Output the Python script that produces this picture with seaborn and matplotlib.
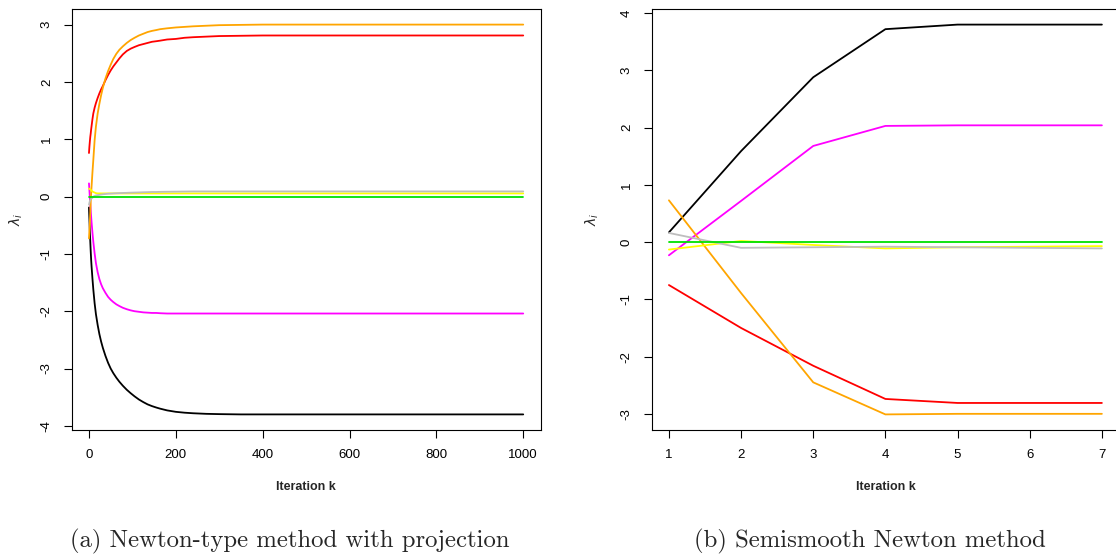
import matplotlib
matplotlib.use("Agg")
import matplotlib.pyplot as plt
import pandas as pd
import seaborn as sns

# ---- Newton-type method with projection (1000 iterations, sampled k) ----
iter_proj = [0, 1, 2, 3, 4, 5, 6, 8, 10, 13, 16, 20, 24, 28, 32, 38, 44, 50, 56, 63,
             70, 78, 87, 96, 105, 115, 125, 135, 145, 155, 164, 180, 200, 220, 240,
             270, 300, 350, 400, 500, 600, 800, 1000]
proj_l1 = [-0.19, -0.40, -0.60, -0.78, -0.95, -1.10, -1.22, -1.43, -1.62, -1.86,
           -2.05, -2.24, -2.40, -2.53, -2.64, -2.78, -2.90, -3.00, -3.08, -3.16,
           -3.23, -3.30, -3.37, -3.43, -3.485, -3.54, -3.585, -3.625, -3.655, -3.68,
           -3.70, -3.73, -3.755, -3.77, -3.78, -3.79, -3.795, -3.80, -3.80, -3.80,
           -3.80, -3.80, -3.80]
proj_l2 = [0.23, 0.11, -0.01, -0.13, -0.24, -0.35, -0.45, -0.63, -0.79, -0.99,
           -1.16, -1.32, -1.44, -1.53, -1.60, -1.68, -1.75, -1.80, -1.84, -1.88,
           -1.91, -1.94, -1.965, -1.985, -2.00, -2.01, -2.02, -2.025, -2.03, -2.03,
           -2.035, -2.04, -2.04, -2.04, -2.04, -2.04, -2.04, -2.04, -2.04, -2.04,
           -2.04, -2.04, -2.04]
proj_l3 = [-0.14, -0.11, -0.08, -0.06, -0.05, -0.04, -0.03, -0.02, 0.00, 0.01,
           0.02, 0.025, 0.03, 0.035, 0.04, 0.045, 0.05, 0.052, 0.055, 0.058,
           0.06, 0.063, 0.065, 0.068, 0.07, 0.072, 0.075, 0.077, 0.08, 0.08,
           0.082, 0.084, 0.086, 0.088, 0.09, 0.09, 0.09, 0.09, 0.09, 0.09,
           0.09, 0.09, 0.09]
proj_l4 = [0.0, 0.0, 0.0, 0.0, 0.0, 0.0, 0.0, 0.0, 0.0, 0.0,
           0.0, 0.0, 0.0, 0.0, 0.0, 0.0, 0.0, 0.0, 0.0, 0.0,
           0.0, 0.0, 0.0, 0.0, 0.0, 0.0, 0.0, 0.0, 0.0, 0.0,
           0.0, 0.0, 0.0, 0.0, 0.0, 0.0, 0.0, 0.0, 0.0, 0.0,
           0.0, 0.0, 0.0]
proj_l5 = [0.14, 0.135, 0.13, 0.125, 0.12, 0.11, 0.10, 0.09, 0.08, 0.07,
           0.06, 0.055, 0.055, 0.055, 0.055, 0.055, 0.055, 0.055, 0.055, 0.055,
           0.055, 0.055, 0.055, 0.055, 0.055, 0.055, 0.055, 0.055, 0.055, 0.055,
           0.055, 0.055, 0.055, 0.055, 0.055, 0.055, 0.055, 0.055, 0.055, 0.055,
           0.055, 0.055, 0.055]
proj_l6 = [0.76, 0.87, 0.96, 1.04, 1.10, 1.17, 1.23, 1.35, 1.45, 1.55,
           1.63, 1.72, 1.80, 1.87, 1.93, 2.03, 2.12, 2.20, 2.27, 2.34,
           2.41, 2.48, 2.54, 2.58, 2.61, 2.64, 2.66, 2.68, 2.70, 2.71,
           2.72, 2.74, 2.75, 2.77, 2.78, 2.79, 2.80, 2.805, 2.81, 2.81,
           2.81, 2.81, 2.81]
proj_l7 = [-0.73, -0.60, -0.45, -0.28, -0.10, 0.05, 0.18, 0.42, 0.64, 0.98,
           1.22, 1.45, 1.62, 1.77, 1.90, 2.06, 2.19, 2.30, 2.40, 2.49,
           2.56, 2.62, 2.68, 2.73, 2.77, 2.81, 2.84, 2.87, 2.89, 2.905,
           2.92, 2.935, 2.95, 2.96, 2.97, 2.98, 2.99, 2.995, 3.00, 3.00,
           3.00, 3.00, 3.00]

# ---- Semismooth Newton method (7 iterations) ----
iter_semi = [1, 2, 3, 4, 5, 6, 7]
semi_l1 = [0.17, 1.59, 2.88, 3.72, 3.80, 3.80, 3.80]
semi_l2 = [-0.23, 0.72, 1.68, 2.03, 2.04, 2.04, 2.04]
semi_l3 = [0.16, -0.10, -0.09, -0.08, -0.09, -0.10, -0.11]
semi_l4 = [0.0, 0.0, 0.0, 0.0, 0.0, 0.0, 0.0]
semi_l5 = [-0.13, 0.02, -0.05, -0.11, -0.09, -0.08, -0.07]
semi_l6 = [-0.75, -1.50, -2.16, -2.74, -2.81, -2.81, -2.81]
semi_l7 = [0.73, -0.89, -2.45, -3.01, -3.00, -3.00, -3.00]

series_names = ["l1", "l2", "l3", "l4", "l5", "l6", "l7"]
palette = {"l1": "#000000", "l2": "#FF00FF", "l3": "#BEBEBE", "l4": "#00E000",
           "l5": "#FFFF00", "l6": "#FF0000", "l7": "#FFA500"}
draw_order = ["l1", "l2", "l6", "l7", "l5", "l3", "l4"]

captions = ["(a) Newton-type method with projection", "(b) Semismooth Newton method"]


def long_frame(iters, columns):
    rows = []
    for name, vals in zip(series_names, columns):
        for k, v in zip(iters, vals):
            rows.append({"k": k, "lam": v, "eig": name})
    return pd.DataFrame(rows)


df_proj = long_frame(iter_proj, [proj_l1, proj_l2, proj_l3, proj_l4, proj_l5, proj_l6, proj_l7])
df_semi = long_frame(iter_semi, [semi_l1, semi_l2, semi_l3, semi_l4, semi_l5, semi_l6, semi_l7])

sns.set_style("ticks")
plt.rcParams["font.family"] = ["Liberation Sans", "DejaVu Sans"]
plt.rcParams["axes.unicode_minus"] = False

W, H = 1116, 555
fig = plt.figure(figsize=(W / 100, H / 100), dpi=100)
ax1 = fig.add_axes([71.6 / W, 125 / H, 469 / W, 421 / H])
ax2 = fig.add_axes([651.6 / W, 125 / H, 467.6 / W, 421 / H])


def r_limits(vals):
    lo, hi = min(vals), max(vals)
    pad = 0.04 * (hi - lo)
    return lo - pad, hi + pad


def style_axis(ax, df, xticks, yticks, ylab_x):
    sns.lineplot(data=df, x="k", y="lam", hue="eig", hue_order=draw_order,
                 palette=palette, linewidth=1.3, legend=False, estimator=None,
                 sort=False, ax=ax)
    ax.set_xlim(*r_limits(df["k"]))
    ax.set_ylim(*r_limits(df["lam"]))
    ax.set_xticks(xticks)
    ax.set_yticks(yticks)
    for s in ax.spines.values():
        s.set_visible(True)
        s.set_linewidth(0.8)
        s.set_color("black")
    ax.tick_params(direction="out", length=5.5, width=0.8, labelsize=9.5,
                   pad=8, colors="black")
    for t in ax.get_yticklabels():
        t.set_rotation(90)
        t.set_va("center")
    ax.set_xlabel("Iteration k", fontsize=9, fontweight="bold")
    ax.xaxis.set_label_coords(0.5, (430 - 487) / 421)
    ax.xaxis.label.set_va("center")
    ax.set_ylabel(r"$\lambda_i$", fontsize=10)
    ax.yaxis.set_label_coords(ylab_x, 0.5)
    ax.yaxis.label.set_va("center")


style_axis(ax1, df_proj, [0, 200, 400, 600, 800, 1000], list(range(-4, 4)), (16 - 71.6) / 469)
style_axis(ax2, df_semi, iter_semi, list(range(-3, 5)), (592 - 651.6) / 467.6)

fig.text(290 / W, 1 - 541 / H, captions[0], fontfamily="cmr10", fontsize=17.8,
         ha="center", va="center")
fig.text(870 / W, 1 - 541 / H, captions[1], fontfamily="cmr10", fontsize=17.8,
         ha="center", va="center")

fig.savefig("out.png", dpi=100)
